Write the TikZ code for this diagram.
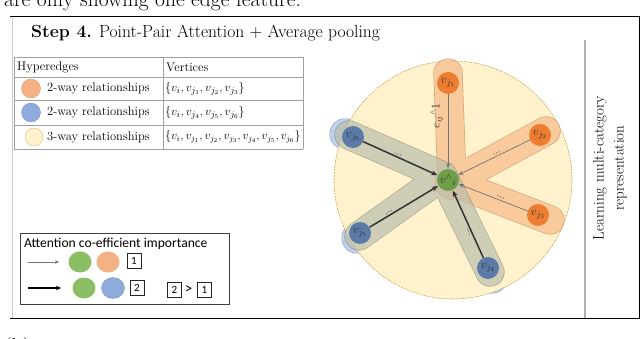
\documentclass[tikz,border=0pt]{standalone}
\usepackage{fontspec}
\newfontfamily\carlito{Carlito}
\usetikzlibrary{arrows.meta,shapes.geometric}
\definecolor{yfill}{RGB}{255,242,204}
\definecolor{yborder}{RGB}{205,170,90}
\definecolor{ofill}{RGB}{248,196,148}
\definecolor{oborder}{RGB}{196,150,100}
\definecolor{gfill}{RGB}{186,190,172}
\definecolor{gborder}{RGB}{130,130,112}
\definecolor{bfill}{RGB}{186,204,236}
\definecolor{bborder}{RGB}{110,140,190}
\definecolor{onode}{RGB}{237,125,49}
\definecolor{bnode}{RGB}{91,122,166}
\definecolor{gnode}{RGB}{110,158,72}
\definecolor{tpeach}{RGB}{244,177,131}
\definecolor{tblue}{RGB}{143,170,220}
\definecolor{lgreen}{RGB}{140,190,100}
\definecolor{tline}{RGB}{160,160,160}
\tikzset{
  vnode/.style={circle, inner sep=0pt, minimum size=22pt, text=black!80, font=\fontsize{12.5}{12}\selectfont},
  thinarr/.style={draw=black!55, line width=0.7pt, -{Stealth[length=5pt,width=4pt]}, shorten >=0.5pt},
  thickarr/.style={draw=black!80, line width=1.5pt, -{Stealth[length=6pt,width=5pt]}, shorten >=0.5pt},
  dotlab/.style={font=\fontsize{10}{10}\selectfont, sloped, inner sep=1.5pt, text=black!80},
  tabtxt/.style={font=\fontsize{12.5}{13}\selectfont, anchor=west, inner sep=0pt},
  legell/.style={ellipse, inner sep=0pt, minimum width=23pt, minimum height=21pt},
  numbox/.style={draw=black!85, line width=0.6pt, inner sep=0pt, minimum width=14pt, minimum height=15pt, font=\carlito\fontsize{11}{11}\selectfont},
  arm/.style={line cap=round, line join=round}
}
\begin{document}
\begin{tikzpicture}[x=1pt,y=-1pt]
\useasboundingbox (0,0) rectangle (640,339);
\clip (0,0) rectangle (640,339);
\fill[white] (0,0) rectangle (640,339);

% text above and below, cut off
\node[anchor=base west, inner sep=0pt, font=\fontsize{21.5}{24}\selectfont] (toptext) at (4,7) {are only showing one edge feature.};
\node[anchor=base west, inner sep=0pt, font=\fontsize{21.5}{24}\selectfont] (capb) at (4,353) {(b)};

% frame
\draw[black!20, line width=0.6pt] (12,17) -- (12,318);
\draw[line width=1pt] (10,17) -- (639,17) -- (639,318) -- (10,318);
\draw[black!30, line width=1.2pt] (585,40) -- (585,318);

% title
\node[anchor=west, inner sep=0pt, font=\fontsize{17.6}{18}\selectfont] (title) at (31,33) {\textbf{Step 4.} Point-Pair Attention + Average pooling};

% table
\draw[tline, line width=0.6pt] (14,57) -- (303,57) (14,77) -- (303,77) (14,100) -- (303,100) (14,125) -- (303,125) (14,149) -- (303,149)
  (14,57) -- (14,149) (163,57) -- (163,149) (303,57) -- (303,149);
\node[tabtxt] (h1) at (17,67) {Hyperedges};
\node[tabtxt] (h2) at (166,67) {Vertices};
\node[circle, fill=tpeach, draw=tpeach!85!black, line width=0.3pt, minimum size=19pt, inner sep=0pt] (c1) at (31,88.5) {};
\node[circle, fill=tblue, draw=tblue!85!black, line width=0.3pt, minimum size=19pt, inner sep=0pt] (c2) at (31,112.5) {};
\node[circle, fill=yfill, draw=yborder!70, line width=0.5pt, minimum size=18pt, inner sep=0pt] (c3) at (34,137) {};
\node[tabtxt] (r1) at (47,88.5) {2-way relationships};
\node[tabtxt] (r2) at (47,112.5) {2-way relationships};
\node[tabtxt] (r3) at (47,137) {3-way relationships};
\node[tabtxt] (v1) at (165,88.5) {$\{v_i, v_{j_1}, v_{j_2}, v_{j_3}\}$};
\node[tabtxt] (v2) at (165,112.5) {$\{v_i, v_{j_4}, v_{j_5}, v_{j_6}\}$};
\node[tabtxt, font=\fontsize{11.5}{12}\selectfont] (v3) at (165,137) {$\{v_i, v_{j_1}, v_{j_2}, v_{j_3}, v_{j_4}, v_{j_5}, v_{j_6}\}$};

% attention legend
\draw[black!75, line width=0.9pt] (20,233) rectangle (229,304);
\node[anchor=west, inner sep=0pt, font=\carlito\fontsize{13.6}{14}\selectfont] (atitle) at (24,244) {Attention co-efficient importance};
\coordinate (a1s) at (28,262);
\coordinate (a1e) at (59,262);
\coordinate (a2s) at (28,288);
\coordinate (a2e) at (61,288);
\draw[draw=black!55, line width=0.7pt, -{Stealth[length=4pt,width=3.5pt]}] (a1s) -- (a1e);
\draw[draw=black, line width=1.4pt, -{Stealth[length=5pt,width=4.5pt]}] (a2s) -- (a2e);
\node[legell, fill=lgreen] (lg1) at (80,262) {};
\node[legell, fill=tpeach] (lo1) at (108,262) {};
\node[legell, fill=lgreen] (lg2) at (84,288) {};
\node[legell, fill=tblue, draw=tblue!80!black, line width=0.3pt] (lb2) at (113,288) {};
\node[numbox] (n1) at (134,260.5) {1};
\node[numbox] (n2) at (137,288) {2};
\node[numbox] (n3) at (174.5,289.5) {2};
\node[inner sep=0pt, font=\carlito\fontsize{15}{15}\selectfont] (gt) at (188.5,289.5) {>};
\node[numbox] (n4) at (204.5,289.5) {1};

% right label
\node[rotate=90, align=center, font=\fontsize{15}{20}\selectfont, inner sep=0pt] (learn) at (610,168) {Learning multi-category\\representation};

% ---- hypergraph ----
\coordinate (ohub) at (452,182);
\coordinate (ghub) at (443,176);
\coordinate (oe1) at (448,73);
\coordinate (oe2) at (546,131);
\coordinate (oe3) at (550,220);
\coordinate (ge6) at (349,135);
\coordinate (ge5) at (359,236);
\coordinate (ge4) at (490,272);
\coordinate (be6) at (345,134);
\coordinate (be5) at (357,238);
\coordinate (be4) at (492,278);

% blue hyperedge (mostly hidden under circle)
\begin{scope}[transparency group, opacity=0.9]
\draw[arm, bborder, line width=31pt] (be6) -- (ghub) (be5) -- (ghub) (be4) -- (ghub);
\draw[arm, bfill, line width=30pt] (be6) -- (ghub) (be5) -- (ghub) (be4) -- (ghub);
\end{scope}

% big yellow circle
\filldraw[fill=yfill, draw=yborder, line width=0.6pt, dash pattern=on 2pt off 1pt] (453,180) circle (119pt);

% orange hyperedge
\begin{scope}[transparency group, opacity=0.85]
\draw[arm, oborder, line width=29.2pt] (oe1) -- (ohub) (oe2) -- (ohub) (oe3) -- (ohub);
\fill[oborder] (ohub) circle (17.6pt);
\draw[arm, ofill, line width=28pt] (oe1) -- (ohub) (oe2) -- (ohub) (oe3) -- (ohub);
\fill[ofill] (ohub) circle (17pt);
\end{scope}

% gray hyperedge
\begin{scope}[transparency group, opacity=0.7]
\draw[arm, gborder, line width=29.2pt] (ge6) -- (ghub) (ge5) -- (ghub) (ge4) -- (ghub);
\draw[arm, gfill, line width=28pt] (ge6) -- (ghub) (ge5) -- (ghub) (ge4) -- (ghub);
\end{scope}

% nodes
\node[vnode, fill=gnode] (vi) at (448,180) {$v^{\wedge}{}_{i}$};
\node[vnode, fill=onode] (j1) at (448,83) {$v_{j_1}$};
\node[vnode, fill=onode] (j2) at (540,135) {$v_{j_2}$};
\node[vnode, fill=onode] (j3) at (538,215) {$v_{j_3}$};
\node[vnode, fill=bnode] (j4) at (488,268) {$v_{j_4}$};
\node[vnode, fill=bnode] (j5) at (360,233) {$v_{j_5}$};
\node[vnode, fill=bnode] (j6) at (353,137) {$v_{j_6}$};

% arrows
\draw[thinarr] (j1) -- (vi);
\draw[thinarr] (j2) -- node[dotlab, pos=0.45, above] {...} (vi);
\draw[thinarr] (j3) -- node[dotlab, pos=0.4, above] {...} (vi);
\draw[thickarr] (j4) -- node[dotlab, pos=0.4, below] {...} (vi);
\draw[thickarr] (j5) -- node[dotlab, pos=0.3, above] {...} (vi);
\draw[thickarr] (j6) -- node[dotlab, pos=0.45, above] {...} (vi);

\node[rotate=90, inner sep=0pt, font=\fontsize{12}{12}\selectfont, text=black!80] (elab) at (437,116) {$e_{ij}{}^{\wedge}1$};
\end{tikzpicture}
\end{document}
